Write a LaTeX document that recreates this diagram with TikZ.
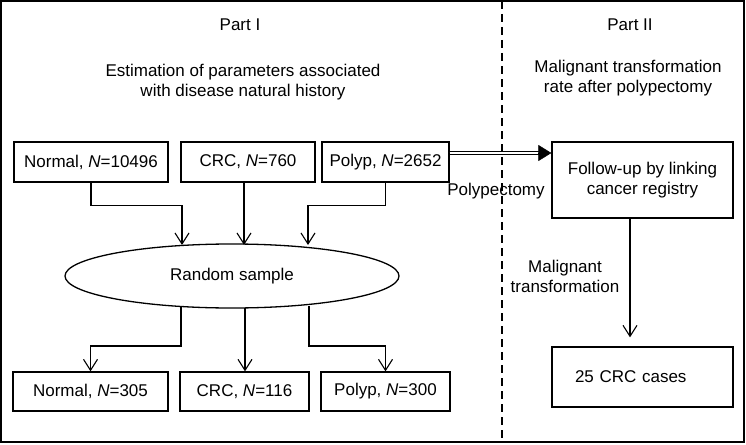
\documentclass[tikz,border=0pt]{standalone}
\usepackage{fontspec}
\setmainfont{Liberation Sans}
\usetikzlibrary{arrows.meta,shapes.geometric,calc}
\begin{document}
\begin{tikzpicture}[x=1pt,y=-1pt,
  every node/.style={font=\fontsize{17}{20}\selectfont},
  box/.style={draw,line width=1.3pt,minimum height=40pt,inner sep=0pt,align=center},
  arr/.style={line width=1.1pt,-{Straight Barb[length=11pt,width=14pt,line width=1.1pt]}},
  lbl/.style={align=center,inner sep=0pt}]
\useasboundingbox (0,0) rectangle (746,444);
\draw[line width=1.3pt] (1,1) rectangle (744,442);
\draw[line width=1.1pt,dash pattern=on 8pt off 5pt] (502,1) -- (502,442);
% headings
\node[lbl] (p1) at (240,25) {Part I};
\node[lbl] (p2) at (630,25) {Part II};
\node[lbl] (h1) at (243,82) {Estimation of parameters associated\\with disease natural history};
\node[lbl] (h2) at (628,78) {Malignant transformation\\rate after polypectomy};
% top row
\node[box,minimum width=154pt] (n1) at (91,162) {Normal, \textit{N}=10496};
\node[box,minimum width=134pt] (c1) at (248,162) {CRC, \textit{N}=760};
\node[box,minimum width=127pt] (q1) at (385.5,162) {Polyp, \textit{N}=2652};
% ellipse
\node[draw,ellipse,line width=1.3pt,minimum width=334pt,minimum height=64pt,inner sep=0pt] (rs) at (232,276) {Random sample};
\coordinate (t1) at (182,245);
\coordinate (t2) at (244,245);
\coordinate (t3) at (308,245);
\coordinate (b1) at (181,306);
\coordinate (b2) at (245,308);
\coordinate (b3) at (309,306);
% bottom row
\node[box,minimum width=155pt,minimum height=39pt] (n2) at (90.5,391.5) {Normal, \textit{N}=305};
\node[box,minimum width=129pt,minimum height=39pt] (c2) at (244.5,391.5) {CRC, \textit{N}=116};
\node[box,minimum width=129pt,minimum height=39pt] (q2) at (385.5,391.5) {Polyp, \textit{N}=300};
% right side
\node[box,minimum width=181pt,minimum height=76pt] (fu) at (642.5,180) {Follow-up by linking\\cancer registry};
\node[box,minimum width=181pt,minimum height=60pt,text width=135pt,inner xsep=23pt,align=left] (cc) at (642.5,377) {25 CRC cases};
% connectors top
\draw[arr] (n1.south) -- ++(0,23) -| (t1);
\draw[arr] (c1.south -| t2) -- (t2);
\draw[arr] (q1.south) -- ++(0,23) -| (t3);
% connectors bottom
\draw[arr] (b1) -- ++(0,40) -| (n2.north);
\draw[arr] (b2) -- (b2 |- c2.north);
\draw[arr] (b3) -- ++(0,40) -| (q2.north);
% polypectomy double arrow
\draw[line width=0.9pt,double,double distance=2.2pt,shorten >=12pt] ([yshift=9pt]q1.east) -- ([yshift=9pt]q1.east -| fu.west);
\draw[line width=0.5pt,-{Triangle[length=13pt,width=16pt]}] ([yshift=9pt,xshift=-13pt]q1.east -| fu.west) -- ([yshift=9pt]q1.east -| fu.west);
\node[lbl] (pl) at (496,191) {Polypectomy};
% malignant transformation
\draw[arr,shorten >=9pt] (fu.south -| 630,0) -- (cc.north -| 630,0);
\node[lbl] (ml) at (565,276) {Malignant\\transformation};
\end{tikzpicture}
\end{document}
